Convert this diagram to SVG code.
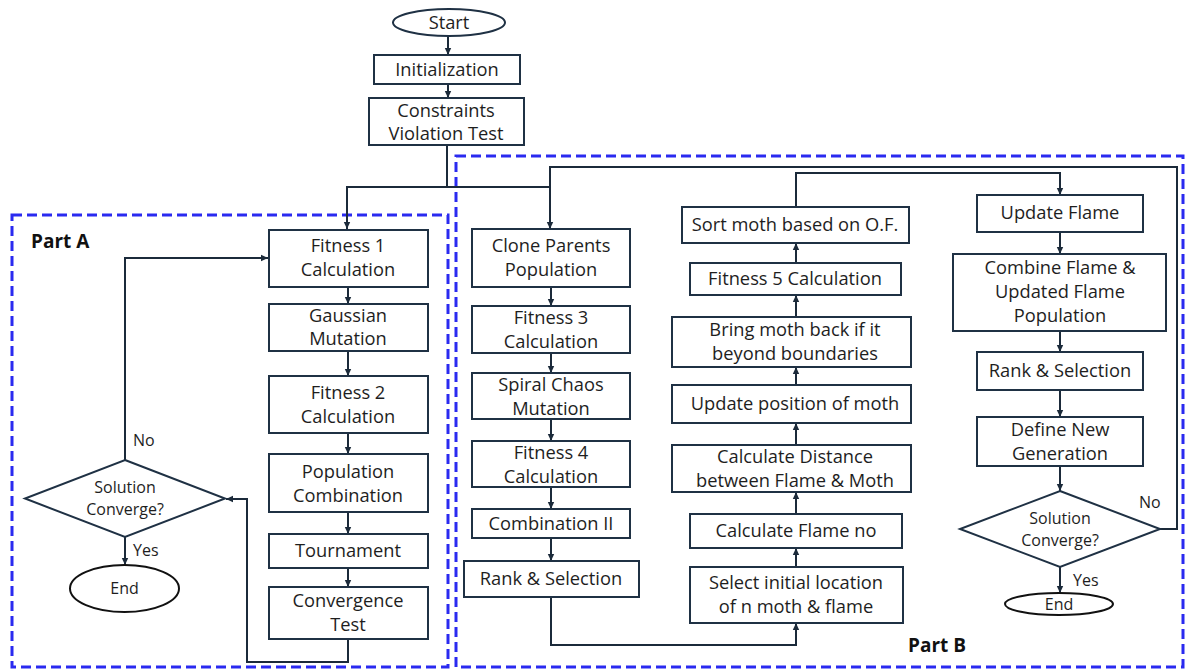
<svg xmlns="http://www.w3.org/2000/svg" width="1186" height="669" viewBox="0 0 1186 669">
<defs>
<marker id="ah" markerUnits="userSpaceOnUse" markerWidth="8" markerHeight="8" refX="7" refY="4" orient="auto">
<path d="M0,0.8 L7,4 L0,7.2 Z" fill="#1b2a3a"/>
</marker>
</defs>
<style>
.b{fill:#fff;stroke:#1f3144;stroke-width:2}
.t{font-family:"Open Sans","Liberation Sans",sans-serif;font-size:18.3px;fill:#1e1e1e;text-anchor:middle}
.s{font-family:"Open Sans","Liberation Sans",sans-serif;font-size:16px;fill:#1e1e1e;text-anchor:middle}
.l{font-family:"Open Sans","Liberation Sans",sans-serif;font-size:16px;fill:#1e1e1e}
.p{font-family:"Open Sans","Liberation Sans",sans-serif;font-size:19px;font-weight:bold;fill:#111}
.c{fill:none;stroke:#1b2a3a;stroke-width:2}
.d{fill:none;stroke:#2a2af0;stroke-width:3;stroke-dasharray:10 5}
.e{fill:#fff;stroke:#111;stroke-width:2}
</style>
<rect width="1186" height="669" fill="#fff"/>
<g id="partA-frame"><rect class="d" x="12" y="215" width="436" height="452"/><text class="p" x="31" y="248">Part A</text></g>
<g id="partB-frame"><rect class="d" x="456" y="156" width="727" height="511"/><text class="p" x="908" y="652">Part B</text></g>

<g id="connectors">
<path class="c" d="M448 36 V55" marker-end="url(#ah)"/>
<path class="c" d="M448 84 V98" marker-end="url(#ah)"/>
<path class="c" d="M447 145 V187 H347 V229" marker-end="url(#ah)"/>
<path class="c" d="M447 187 H550"/>
<path class="c" d="M1160 529 H1177 V167 H550 V229" marker-end="url(#ah)"/>
<path class="c" d="M348 287 V304" marker-end="url(#ah)"/>
<path class="c" d="M348 351 V376" marker-end="url(#ah)"/>
<path class="c" d="M348 433 V454" marker-end="url(#ah)"/>
<path class="c" d="M348 512 V534" marker-end="url(#ah)"/>
<path class="c" d="M348 568 V587" marker-end="url(#ah)"/>
<path class="c" d="M348 639 V662 H247 V499 H226" marker-end="url(#ah)"/>
<path class="c" d="M125 460 V258 H268" marker-end="url(#ah)"/>
<path class="c" d="M125 537 V565" marker-end="url(#ah)"/>
<path class="c" d="M551 287 V306" marker-end="url(#ah)"/>
<path class="c" d="M551 353 V373" marker-end="url(#ah)"/>
<path class="c" d="M551 419 V441" marker-end="url(#ah)"/>
<path class="c" d="M551 487 V509" marker-end="url(#ah)"/>
<path class="c" d="M551 538 V561" marker-end="url(#ah)"/>
<path class="c" d="M551 597 V645 H796 V623" marker-end="url(#ah)"/>
<path class="c" d="M796 567 V548" marker-end="url(#ah)"/>
<path class="c" d="M796 514 V492" marker-end="url(#ah)"/>
<path class="c" d="M796 445 V423" marker-end="url(#ah)"/>
<path class="c" d="M796 385 V367" marker-end="url(#ah)"/>
<path class="c" d="M796 317 V295" marker-end="url(#ah)"/>
<path class="c" d="M796 263 V243" marker-end="url(#ah)"/>
<path class="c" d="M796 207 V173 H1060 V195" marker-end="url(#ah)"/>
<path class="c" d="M1060 232 V254" marker-end="url(#ah)"/>
<path class="c" d="M1060 331 V352" marker-end="url(#ah)"/>
<path class="c" d="M1060 390 V417" marker-end="url(#ah)"/>
<path class="c" d="M1060 466 V491" marker-end="url(#ah)"/>
<path class="c" d="M1060 567 V593" marker-end="url(#ah)"/>
<text class="l" x="133" y="446">No</text>
<text class="l" x="133" y="556">Yes</text>
<text class="l" x="1139" y="508">No</text>
<text class="l" x="1073" y="586">Yes</text>
</g>

<g id="start"><ellipse class="b" cx="449" cy="22.5" rx="56" ry="13.5"/><text class="t" x="449" y="29">Start</text></g>
<g id="init"><rect class="b" x="374" y="55" width="146" height="29"/><text class="t" x="447" y="76">Initialization</text></g>
<g id="constraints"><rect class="b" x="369" y="98" width="155" height="47"/><text class="t" x="446" y="117">Constraints</text><text class="t" x="446" y="140">Violation Test</text></g>

<g id="fitness1"><rect class="b" x="269" y="230" width="159" height="57"/><text class="t" x="348" y="252">Fitness 1</text><text class="t" x="348" y="276">Calculation</text></g>
<g id="gaussian"><rect class="b" x="269" y="304" width="159" height="47"/><text class="t" x="348" y="322">Gaussian</text><text class="t" x="348" y="345">Mutation</text></g>
<g id="fitness2"><rect class="b" x="269" y="376" width="159" height="57"/><text class="t" x="348" y="399">Fitness 2</text><text class="t" x="348" y="423">Calculation</text></g>
<g id="popcomb"><rect class="b" x="269" y="454" width="159" height="58"/><text class="t" x="348" y="478">Population</text><text class="t" x="348" y="502">Combination</text></g>
<g id="tournament"><rect class="b" x="269" y="534" width="159" height="34"/><text class="t" x="348" y="557">Tournament</text></g>
<g id="convtest"><rect class="b" x="269" y="587" width="159" height="52"/><text class="t" x="348" y="607">Convergence</text><text class="t" x="348" y="631">Test</text></g>
<g id="decisionA"><path class="b" d="M125 460 L225 498.5 L125 537 L25 498.5 Z"/><text class="s" x="125" y="493">Solution</text><text class="s" x="125" y="515">Converge?</text></g>
<g id="endA"><ellipse class="e" cx="124.5" cy="588.5" rx="54.5" ry="23.5"/><text class="s" x="124.5" y="594">End</text></g>

<g id="clone"><rect class="b" x="472" y="229" width="158" height="58"/><text class="t" x="551" y="252">Clone Parents</text><text class="t" x="551" y="276">Population</text></g>
<g id="fitness3"><rect class="b" x="472" y="306" width="158" height="47"/><text class="t" x="551" y="324">Fitness 3</text><text class="t" x="551" y="348">Calculation</text></g>
<g id="spiral"><rect class="b" x="472" y="373" width="158" height="46"/><text class="t" x="551" y="391">Spiral Chaos</text><text class="t" x="551" y="415">Mutation</text></g>
<g id="fitness4"><rect class="b" x="472" y="441" width="158" height="46"/><text class="t" x="551" y="459">Fitness 4</text><text class="t" x="551" y="483">Calculation</text></g>
<g id="comb2"><rect class="b" x="472" y="509" width="158" height="29"/><text class="t" x="551" y="530">Combination II</text></g>
<g id="rankB1"><rect class="b" x="464" y="561" width="175" height="36"/><text class="t" x="551" y="585">Rank &amp; Selection</text></g>

<g id="sortmoth"><rect class="b" x="682" y="207" width="227" height="36"/><text class="t" x="795" y="231">Sort moth based on O.F.</text></g>
<g id="fitness5"><rect class="b" x="690" y="263" width="211" height="32"/><text class="t" x="795" y="285">Fitness 5 Calculation</text></g>
<g id="bringmoth"><rect class="b" x="672" y="317" width="239" height="50"/><text class="t" x="795" y="336">Bring moth back if it</text><text class="t" x="795" y="360">beyond boundaries</text></g>
<g id="updatepos"><rect class="b" x="672" y="385" width="239" height="38"/><text class="t" x="795" y="410">Update position of moth</text></g>
<g id="calcdist"><rect class="b" x="672" y="445" width="239" height="47"/><text class="t" x="795" y="463">Calculate Distance</text><text class="t" x="795" y="487">between Flame &amp; Moth</text></g>
<g id="flameno"><rect class="b" x="690" y="514" width="212" height="34"/><text class="t" x="796" y="537">Calculate Flame no</text></g>
<g id="selectinit"><rect class="b" x="690" y="567" width="213" height="56"/><text class="t" x="796" y="589">Select initial location</text><text class="t" x="796" y="613">of n moth &amp; flame</text></g>

<g id="updateflame"><rect class="b" x="977" y="195" width="166" height="37"/><text class="t" x="1060" y="219">Update Flame</text></g>
<g id="combineflame"><rect class="b" x="953" y="254" width="213" height="77"/><text class="t" x="1060" y="274">Combine Flame &amp;</text><text class="t" x="1060" y="298">Updated Flame</text><text class="t" x="1060" y="322">Population</text></g>
<g id="rankB3"><rect class="b" x="977" y="352" width="166" height="38"/><text class="t" x="1060" y="377">Rank &amp; Selection</text></g>
<g id="definegen"><rect class="b" x="977" y="417" width="166" height="49"/><text class="t" x="1060" y="436">Define New</text><text class="t" x="1060" y="460">Generation</text></g>
<g id="decisionB"><path class="b" d="M1060 491 L1160 529 L1060 567 L960 529 Z"/><text class="s" x="1060" y="524">Solution</text><text class="s" x="1060" y="546">Converge?</text></g>
<g id="endB"><ellipse class="e" cx="1059" cy="604" rx="54" ry="11"/><text class="s" x="1059" y="610">End</text></g>
</svg>
